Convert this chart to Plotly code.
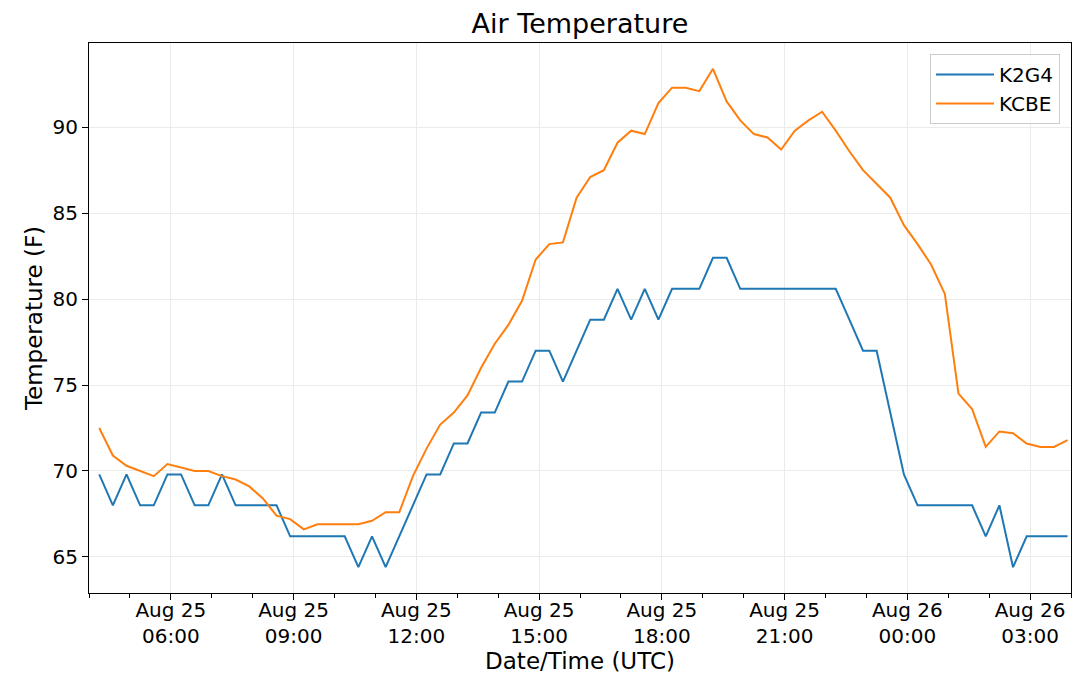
import pandas as pd
import plotly.graph_objects as go

# Observation times: every 20 minutes
times = pd.date_range("2017-08-25 04:15", "2017-08-26 03:55", freq="20min")

k2g4_temp = [
    69.8, 68.0, 69.8, 68.0, 68.0, 69.8, 69.8, 68.0, 68.0, 69.8,
    68.0, 68.0, 68.0, 68.0, 66.2, 66.2, 66.2, 66.2, 66.2, 64.4,
    66.2, 64.4, 66.2, 68.0, 69.8, 69.8, 71.6, 71.6, 73.4, 73.4,
    75.2, 75.2, 77.0, 77.0, 75.2, 77.0, 78.8, 78.8, 80.6, 78.8,
    80.6, 78.8, 80.6, 80.6, 80.6, 82.4, 82.4, 80.6, 80.6, 80.6,
    80.6, 80.6, 80.6, 80.6, 80.6, 78.8, 77.0, 77.0, 73.4, 69.8,
    68.0, 68.0, 68.0, 68.0, 68.0, 66.2, 68.0, 64.4, 66.2, 66.2,
    66.2, 66.2,
]

kcbe_temp = [
    72.5, 70.9, 70.3, 70.0, 69.7, 70.4, 70.2, 70.0, 70.0, 69.7,
    69.5, 69.1, 68.4, 67.4, 67.2, 66.6, 66.9, 66.9, 66.9, 66.9,
    67.1, 67.6, 67.6, 69.7, 71.3, 72.7, 73.4, 74.4, 76.0, 77.4,
    78.5, 79.9, 82.3, 83.2, 83.3, 85.9, 87.1, 87.5, 89.1, 89.8,
    89.6, 91.4, 92.3, 92.3, 92.1, 93.4, 91.5, 90.4, 89.6, 89.4,
    88.7, 89.8, 90.4, 90.9, 89.8, 88.6, 87.5, 86.7, 85.9, 84.3,
    83.2, 82.0, 80.3, 74.5, 73.6, 71.4, 72.3, 72.2, 71.6, 71.4,
    71.4, 71.8,
]

series_names = ["K2G4", "KCBE"]
series_colors = ["#1f77b4", "#ff7f0e"]

title_text = "Air Temperature"
x_title = "Date/Time (UTC)"
y_title = "Temperature (F)"

FONT = "DejaVu Sans"

fig = go.Figure()
for name, vals, col in zip(series_names, [k2g4_temp, kcbe_temp], series_colors):
    fig.add_trace(go.Scatter(
        x=times, y=vals, mode="lines", name=name,
        line=dict(color=col, width=2),
    ))

fig.update_layout(
    width=1080, height=681,
    margin=dict(l=89, r=9, t=43, b=88, autoexpand=False),
    paper_bgcolor="white", plot_bgcolor="white",
    font=dict(family=FONT, color="black", size=20),
    title=dict(text=title_text, x=0.537, xanchor="center", y=0.965, yanchor="middle",
               font=dict(size=27, family=FONT, color="black")),
    showlegend=True,
    legend=dict(x=0.9888, xanchor="right", y=0.98, yanchor="top",
                bgcolor="rgba(255,255,255,0.8)", bordercolor="#cccccc", borderwidth=1,
                itemwidth=58,
                font=dict(size=20, family=FONT)),
)

fig.update_xaxes(
    type="date", automargin=False,
    range=["2017-08-25 04:00", "2017-08-26 04:00"],
    tick0="2017-08-25 00:00", dtick=3 * 3600000,
    tickformat="%b %d<br>%H:%M",
    ticks="outside", ticklen=6, tickwidth=1.2, tickcolor="black",
    tickfont=dict(size=20, family=FONT),
    ticklabelstandoff=-7,
    minor=dict(dtick=3600000, tick0="2017-08-25 00:00", ticks="outside", ticklen=3.5,
               tickcolor="black", tickwidth=1, showgrid=False),
    showgrid=True, gridcolor="#ebebeb", gridwidth=1,
    showline=True, linecolor="black", linewidth=1.2, mirror=True,
    zeroline=False,
    title=dict(text=x_title, font=dict(size=23, family=FONT), standoff=4),
)

fig.update_yaxes(
    automargin=False,
    range=[62.9, 94.9],
    tick0=65, dtick=5,
    ticks="outside", ticklen=6, tickwidth=1.2, tickcolor="black",
    tickfont=dict(size=20, family=FONT),
    showgrid=True, gridcolor="#ebebeb", gridwidth=1,
    showline=True, linecolor="black", linewidth=1.2, mirror=True,
    zeroline=False,
    title=dict(text=y_title, font=dict(size=23, family=FONT), standoff=3),
)

fig.write_html("out.html", config={"displayModeBar": False},
               post_script="document.body.style.margin='0px';")
